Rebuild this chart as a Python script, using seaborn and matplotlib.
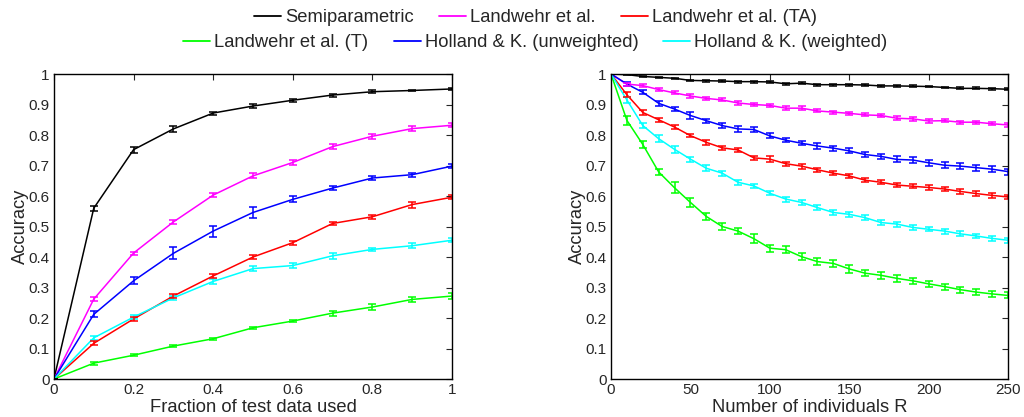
import numpy as np
import pandas as pd
import matplotlib
matplotlib.use("Agg")
import matplotlib.pyplot as plt
import seaborn as sns
from matplotlib.lines import Line2D

methods = ["Semiparametric", "Landwehr et al.", "Landwehr et al. (TA)",
           "Landwehr et al. (T)", "Holland & K. (unweighted)", "Holland & K. (weighted)"]
colors = ["#000000", "#ff00ff", "#ff0000", "#00ff00", "#0000ff", "#00ffff"]

# Left panel: fraction of test data used
frac = [0.0, 0.1, 0.2, 0.3, 0.4, 0.5, 0.6, 0.7, 0.8, 0.9, 1.0]
left_semi = [0.0, 0.560, 0.752, 0.820, 0.872, 0.895, 0.914, 0.931, 0.942, 0.946, 0.951]
left_land = [0.0, 0.262, 0.413, 0.515, 0.603, 0.666, 0.710, 0.762, 0.796, 0.821, 0.832]
left_ta = [0.0, 0.117, 0.197, 0.272, 0.338, 0.400, 0.447, 0.510, 0.532, 0.572, 0.596]
left_t = [0.0, 0.052, 0.078, 0.108, 0.132, 0.168, 0.190, 0.216, 0.236, 0.261, 0.272]
left_hku = [0.0, 0.212, 0.322, 0.412, 0.485, 0.546, 0.589, 0.626, 0.659, 0.670, 0.698]
left_hkw = [0.0, 0.135, 0.203, 0.266, 0.320, 0.362, 0.372, 0.404, 0.425, 0.437, 0.455]

left_semi_err = [0.0, 0.008, 0.010, 0.010, 0.005, 0.006, 0.005, 0.005, 0.004, 0.003, 0.003]
left_land_err = [0.0, 0.007, 0.005, 0.006, 0.007, 0.008, 0.008, 0.007, 0.008, 0.008, 0.006]
left_ta_err = [0.0, 0.007, 0.006, 0.007, 0.007, 0.005, 0.006, 0.005, 0.007, 0.010, 0.007]
left_t_err = [0.0, 0.005, 0.003, 0.004, 0.004, 0.004, 0.003, 0.008, 0.010, 0.008, 0.010]
left_hku_err = [0.0, 0.010, 0.012, 0.020, 0.018, 0.018, 0.010, 0.007, 0.008, 0.007, 0.006]
left_hkw_err = [0.0, 0.006, 0.007, 0.007, 0.007, 0.008, 0.008, 0.010, 0.006, 0.008, 0.006]

# Right panel: number of individuals R
n_ind = [0, 10, 20, 30, 40, 50, 60, 70, 80, 90, 100, 110, 120, 130, 140, 150,
         160, 170, 180, 190, 200, 210, 220, 230, 240, 250]
right_semi = [1.0, 0.998, 0.992, 0.989, 0.986, 0.979, 0.978, 0.977, 0.975, 0.975, 0.974,
              0.968, 0.970, 0.965, 0.965, 0.965, 0.964, 0.961, 0.961, 0.960, 0.959,
              0.956, 0.953, 0.953, 0.952, 0.950]
right_land = [1.0, 0.967, 0.962, 0.949, 0.938, 0.928, 0.920, 0.915, 0.905, 0.900, 0.897,
              0.888, 0.888, 0.879, 0.875, 0.871, 0.866, 0.864, 0.855, 0.853, 0.846,
              0.847, 0.842, 0.842, 0.837, 0.833]
right_ta = [1.0, 0.932, 0.874, 0.850, 0.826, 0.798, 0.776, 0.758, 0.751, 0.725, 0.721,
            0.706, 0.698, 0.686, 0.675, 0.666, 0.652, 0.645, 0.636, 0.632, 0.628,
            0.623, 0.615, 0.608, 0.602, 0.597]
right_t = [1.0, 0.848, 0.769, 0.679, 0.627, 0.579, 0.533, 0.500, 0.485, 0.460, 0.429,
           0.424, 0.401, 0.385, 0.379, 0.361, 0.347, 0.340, 0.330, 0.322, 0.312,
           0.303, 0.293, 0.285, 0.279, 0.274]
right_hku = [1.0, 0.967, 0.940, 0.904, 0.885, 0.864, 0.847, 0.831, 0.820, 0.818, 0.797,
             0.783, 0.773, 0.764, 0.757, 0.748, 0.736, 0.730, 0.720, 0.718, 0.709,
             0.701, 0.698, 0.693, 0.688, 0.680]
right_hkw = [1.0, 0.915, 0.831, 0.788, 0.753, 0.721, 0.691, 0.675, 0.645, 0.633, 0.609,
             0.590, 0.579, 0.562, 0.546, 0.540, 0.529, 0.513, 0.508, 0.497, 0.491,
             0.485, 0.476, 0.469, 0.461, 0.455]

right_semi_err = [0.0, 0.002, 0.002, 0.002, 0.002, 0.003, 0.003, 0.003, 0.003, 0.003, 0.003,
                  0.003, 0.003, 0.003, 0.003, 0.003, 0.003, 0.003, 0.003, 0.003, 0.003,
                  0.003, 0.003, 0.003, 0.003, 0.003]
right_land_err = [0.0, 0.005, 0.005, 0.005, 0.005, 0.005, 0.004, 0.005, 0.005, 0.005, 0.005,
                  0.006, 0.006, 0.005, 0.005, 0.005, 0.005, 0.005, 0.006, 0.006, 0.005,
                  0.005, 0.005, 0.005, 0.005, 0.006]
right_ta_err = [0.0, 0.008, 0.007, 0.006, 0.007, 0.006, 0.008, 0.006, 0.007, 0.006, 0.009,
                0.006, 0.008, 0.007, 0.007, 0.007, 0.007, 0.007, 0.007, 0.007, 0.007,
                0.008, 0.008, 0.007, 0.007, 0.007]
right_t_err = [0.0, 0.015, 0.012, 0.010, 0.018, 0.015, 0.012, 0.013, 0.010, 0.015, 0.012,
               0.012, 0.012, 0.012, 0.012, 0.012, 0.010, 0.012, 0.012, 0.010, 0.010,
               0.010, 0.010, 0.010, 0.010, 0.010]
right_hku_err = [0.0, 0.006, 0.006, 0.008, 0.007, 0.010, 0.006, 0.008, 0.010, 0.007, 0.008,
                 0.006, 0.007, 0.009, 0.008, 0.008, 0.009, 0.009, 0.010, 0.009, 0.010,
                 0.010, 0.010, 0.010, 0.009, 0.010]
right_hkw_err = [0.0, 0.010, 0.009, 0.012, 0.012, 0.008, 0.010, 0.008, 0.008, 0.008, 0.007,
                 0.008, 0.009, 0.007, 0.008, 0.008, 0.008, 0.009, 0.008, 0.008, 0.007,
                 0.008, 0.008, 0.008, 0.008, 0.008]

left_vals = [left_semi, left_land, left_ta, left_t, left_hku, left_hkw]
left_errs = [left_semi_err, left_land_err, left_ta_err, left_t_err, left_hku_err, left_hkw_err]
right_vals = [right_semi, right_land, right_ta, right_t, right_hku, right_hkw]
right_errs = [right_semi_err, right_land_err, right_ta_err, right_t_err, right_hku_err, right_hkw_err]

sns.set_style("white")
plt.rcParams['font.family'] = ['Liberation Sans', 'DejaVu Sans']
plt.rcParams['xtick.direction'] = 'in'
plt.rcParams['ytick.direction'] = 'in'

fig = plt.figure(figsize=(10.24, 4.17), dpi=100)
ax1 = fig.add_axes([0.0527, 0.0911, 0.3887, 0.7314])
ax2 = fig.add_axes([0.5967, 0.0911, 0.3877, 0.7314])

def build_df(x, vals, errs):
    rows = []
    for m, v, e in zip(methods, vals, errs):
        for xi, vi, ei in zip(x, v, e):
            rows.append({"x": xi, "acc": vi, "err": ei, "method": m})
    return pd.DataFrame(rows)

palette = dict(zip(methods, colors))
order = [3, 5, 2, 4, 1, 0]  # draw order

for ax, x, vals, errs in [(ax1, frac, left_vals, left_errs), (ax2, n_ind, right_vals, right_errs)]:
    df = build_df(x, vals, errs)
    sns.lineplot(data=df, x="x", y="acc", hue="method", palette=palette,
                 hue_order=methods, linewidth=1.1, ax=ax, legend=False)
    for i in order:
        sub = df[df["method"] == methods[i]]
        ax.errorbar(sub["x"], sub["acc"], yerr=sub["err"], fmt="none",
                    ecolor=colors[i], elinewidth=1.1, capsize=3.0, capthick=1.1)
    ax.set_ylim(0, 1)
    ax.set_yticks(np.arange(0, 1.01, 0.1))
    ax.set_yticklabels(["0", "0.1", "0.2", "0.3", "0.4", "0.5", "0.6", "0.7", "0.8", "0.9", "1"])
    ax.set_ylabel("Accuracy", fontsize=13.2, labelpad=0)
    ax.tick_params(axis="both", labelsize=11, direction="in", top=True, right=True,
                   length=4, width=0.8, pad=3)
    for s in ax.spines.values():
        s.set_linewidth(1.0)
        s.set_color("black")

ax1.set_xlim(0, 1)
ax1.set_xticks([0, 0.2, 0.4, 0.6, 0.8, 1.0])
ax1.set_xticklabels(["0", "0.2", "0.4", "0.6", "0.8", "1"])
ax1.set_xlabel("Fraction of test data used", fontsize=13.2, labelpad=1)

ax2.set_xlim(0, 250)
ax2.set_xticks([0, 50, 100, 150, 200, 250])
ax2.set_xlabel("Number of individuals R", fontsize=13.2, labelpad=1)

def handles(idx):
    return [Line2D([0], [0], color=colors[i], lw=1.3) for i in idx]

kw = dict(frameon=False, ncol=3, fontsize=13.2, handlelength=1.47, handletextpad=0.22,
          columnspacing=1.37, borderaxespad=0, loc="center")
leg1 = fig.legend(handles([0, 1, 2]), [methods[i] for i in [0, 1, 2]],
                  bbox_to_anchor=(0.523, 0.957), **kw)
leg2 = fig.legend(handles([3, 4, 5]), [methods[i] for i in [3, 4, 5]],
                  bbox_to_anchor=(0.523, 0.897), **kw)

fig.savefig("out.png", dpi=100)
